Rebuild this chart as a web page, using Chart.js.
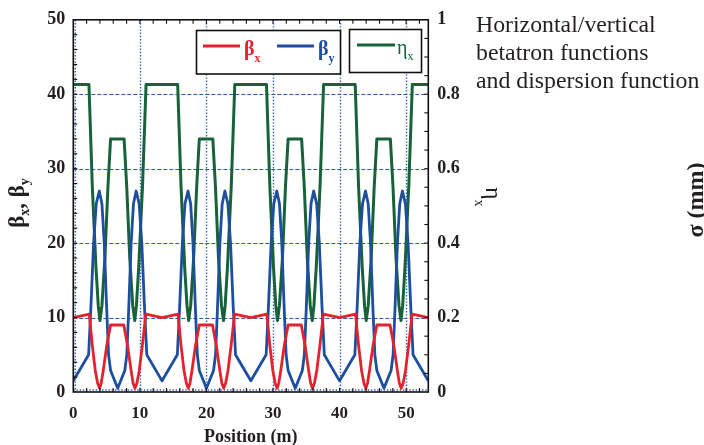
<!DOCTYPE html>
<html>
<head>
<meta charset="utf-8">
<script src="https://cdn.jsdelivr.net/npm/chart.js@4/dist/chart.umd.min.js"></script>
<style>
  html, body { margin: 0; padding: 0; background: #fff; }
  canvas { display: block; }
</style>
</head>
<body>
<canvas id="lattice" width="704" height="445"></canvas>
<script>
// Horizontal betatron function beta_x (m) along the ring
const betaXPos = [
  0, 2.4, 2.85, 3.3, 3.65, 3.95, 4.2, 4.5, 5.0, 5.6, 7.58, 8.18, 8.68, 8.98, 9.26, 9.56, 9.91, 10.38, 10.9,
  13.33, 15.73, 16.18, 16.63, 16.98, 17.28, 17.53, 17.83, 18.33, 18.93, 20.91, 21.51, 22.01, 22.31, 22.59, 22.89, 23.24, 23.71, 24.23,
  26.67, 29.07, 29.52, 29.97, 30.32, 30.62, 30.87, 31.17, 31.67, 32.27, 34.25, 34.85, 35.35, 35.65, 35.93, 36.23, 36.58, 37.05, 37.57,
  40, 42.4, 42.85, 43.3, 43.65, 43.95, 44.2, 44.5, 45.0, 45.6, 47.58, 48.18, 48.68, 48.98, 49.26, 49.56, 49.91, 50.38, 50.9,
  53.33
];
const betaXVal = [
  10.0, 10.45, 6.3, 2.9, 1.2, 0.5, 1.2, 2.9, 6.1, 9.0, 9.0, 6.1, 2.9, 1.2, 0.5, 1.2, 2.9, 6.3, 10.45,
  10.0, 10.45, 6.3, 2.9, 1.2, 0.5, 1.2, 2.9, 6.1, 9.0, 9.0, 6.1, 2.9, 1.2, 0.5, 1.2, 2.9, 6.3, 10.45,
  10.0, 10.45, 6.3, 2.9, 1.2, 0.5, 1.2, 2.9, 6.1, 9.0, 9.0, 6.1, 2.9, 1.2, 0.5, 1.2, 2.9, 6.3, 10.45,
  10.0, 10.45, 6.3, 2.9, 1.2, 0.5, 1.2, 2.9, 6.1, 9.0, 9.0, 6.1, 2.9, 1.2, 0.5, 1.2, 2.9, 6.3, 10.45,
  10.0
];

// Vertical betatron function beta_y (m)
const betaYPos = [
  0, 2.3, 2.65, 3.05, 3.45, 3.9, 4.3, 4.65, 5.0, 5.3, 5.6, 6.67, 7.74, 8.04, 8.34, 8.69, 9.04, 9.44, 9.89, 10.29, 10.69, 11.04,
  13.33, 15.63, 15.98, 16.38, 16.78, 17.23, 17.63, 17.98, 18.33, 18.63, 18.93, 20.0, 21.07, 21.37, 21.67, 22.02, 22.37, 22.77, 23.22, 23.62, 24.02, 24.37,
  26.67, 28.97, 29.32, 29.72, 30.12, 30.57, 30.97, 31.32, 31.67, 31.97, 32.27, 33.34, 34.41, 34.71, 35.01, 35.36, 35.71, 36.11, 36.56, 36.96, 37.36, 37.71,
  40, 42.3, 42.65, 43.05, 43.45, 43.9, 44.3, 44.65, 45.0, 45.3, 45.6, 46.67, 47.74, 48.04, 48.34, 48.69, 49.04, 49.44, 49.89, 50.29, 50.69, 51.04,
  53.33
];
const betaYVal = [
  1.5, 5.0, 11.5, 20.0, 25.3, 27.0, 25.3, 20.0, 11.5, 5.0, 2.9, 0.5, 2.9, 5.0, 11.5, 20.0, 25.3, 27.0, 25.3, 20.0, 11.5, 5.0,
  1.5, 5.0, 11.5, 20.0, 25.3, 27.0, 25.3, 20.0, 11.5, 5.0, 2.9, 0.5, 2.9, 5.0, 11.5, 20.0, 25.3, 27.0, 25.3, 20.0, 11.5, 5.0,
  1.5, 5.0, 11.5, 20.0, 25.3, 27.0, 25.3, 20.0, 11.5, 5.0, 2.9, 0.5, 2.9, 5.0, 11.5, 20.0, 25.3, 27.0, 25.3, 20.0, 11.5, 5.0,
  1.5, 5.0, 11.5, 20.0, 25.3, 27.0, 25.3, 20.0, 11.5, 5.0, 2.9, 0.5, 2.9, 5.0, 11.5, 20.0, 25.3, 27.0, 25.3, 20.0, 11.5, 5.0,
  1.5
];

// Horizontal dispersion eta_x (m), right-hand axis
const etaPos = [
  0, 2.35, 2.85, 3.4, 3.75, 4.0, 4.3, 4.75, 5.2, 5.6, 7.63, 8.03, 8.48, 8.93, 9.23, 9.48, 9.83, 10.4, 10.93,
  13.33, 15.68, 16.18, 16.73, 17.08, 17.33, 17.63, 18.08, 18.53, 18.93, 20.96, 21.36, 21.81, 22.26, 22.56, 22.81, 23.16, 23.73, 24.26,
  26.67, 29.02, 29.52, 30.07, 30.42, 30.67, 30.97, 31.42, 31.87, 32.27, 34.30, 34.70, 35.15, 35.60, 35.90, 36.15, 36.50, 37.07, 37.60,
  40, 42.35, 42.85, 43.4, 43.75, 44.0, 44.3, 44.75, 45.2, 45.6, 47.63, 48.03, 48.48, 48.93, 49.23, 49.48, 49.83, 50.4, 50.93,
  53.33
];
const etaVal = [
  0.826, 0.826, 0.554, 0.336, 0.232, 0.192, 0.232, 0.36, 0.55, 0.68, 0.68, 0.55, 0.36, 0.232, 0.192, 0.232, 0.336, 0.554, 0.826,
  0.826, 0.826, 0.554, 0.336, 0.232, 0.192, 0.232, 0.36, 0.55, 0.68, 0.68, 0.55, 0.36, 0.232, 0.192, 0.232, 0.336, 0.554, 0.826,
  0.826, 0.826, 0.554, 0.336, 0.232, 0.192, 0.232, 0.36, 0.55, 0.68, 0.68, 0.55, 0.36, 0.232, 0.192, 0.232, 0.336, 0.554, 0.826,
  0.826, 0.826, 0.554, 0.336, 0.232, 0.192, 0.232, 0.36, 0.55, 0.68, 0.68, 0.55, 0.36, 0.232, 0.192, 0.232, 0.336, 0.554, 0.826,
  0.826
];

// Axis ticks
const positionTicks = [0, 10, 20, 30, 40, 50];
const betaTicks = [0, 10, 20, 30, 40, 50];
const etaTicks = [0, 0.2, 0.4, 0.6, 0.8, 1];
const etaTickLabels = ['0', '0.2', '0.4', '0.6', '0.8', '1'];

const noteLines = ['Horizontal/vertical', 'betatron functions', 'and dispersion function'];

const RED = '#e2232e';
const BLUE = '#1d4e9f';
const GREEN = '#176238';
const GRID = '#2a5cab';
const INK = '#231f20';
const SERIF = '"Liberation Serif", "Times New Roman", serif';

function toPoints(xs, ys) { return xs.map((x, i) => ({ x: x, y: ys[i] })); }

function line(ctx, x1, y1, x2, y2) {
  ctx.beginPath(); ctx.moveTo(x1, y1); ctx.lineTo(x2, y2); ctx.stroke();
}

// draws a sequence of [text, font, dy] runs from the current origin
function runs(ctx, parts, x0) {
  let x = x0;
  for (const [txt, font, dy] of parts) {
    ctx.font = font;
    ctx.fillText(txt, x, dy);
    x += ctx.measureText(txt).width;
  }
}
function runsWidth(ctx, parts) {
  let w = 0;
  for (const [txt, font] of parts) { ctx.font = font; w += ctx.measureText(txt).width; }
  return w;
}

const decorations = {
  id: 'decorations',
  beforeDatasetsDraw(chart) {
    const { ctx, chartArea: a, scales } = chart;
    const sx = scales.x, sy = scales.y;
    ctx.save();
    ctx.strokeStyle = GRID;
    // horizontal dashed grid
    ctx.lineWidth = 1.2;
    ctx.setLineDash([4, 2]);
    for (const v of betaTicks) {
      if (v <= sy.min || v >= sy.max) continue;
      const py = Math.round(sy.getPixelForValue(v)) + 0.5;
      line(ctx, a.left, py, a.right, py);
    }
    // vertical dotted grid
    ctx.lineWidth = 1.4;
    ctx.setLineDash([1.4, 1.8]);
    for (const v of positionTicks) {
      if (v <= sx.min || v >= sx.max) continue;
      const px = Math.round(sx.getPixelForValue(v)) + 0.5;
      line(ctx, px, a.top, px, a.bottom);
    }
    // dotted lines hugging the zero axes
    line(ctx, a.left + 2, a.top, a.left + 2, a.bottom);
    line(ctx, a.left, a.bottom - 2, a.right, a.bottom - 2);
    ctx.restore();
  },
  afterDatasetsDraw(chart) {
    const { ctx, chartArea: a, scales } = chart;
    const sx = scales.x, sy = scales.y, se = scales.y2;
    ctx.save();
    // frame
    ctx.strokeStyle = '#111';
    ctx.lineWidth = 1.6;
    ctx.strokeRect(a.left, a.top, a.right - a.left, a.bottom - a.top);
    // inward minor ticks
    ctx.lineWidth = 1.1;
    const tl = 4;
    for (let v = 2; v < sx.max; v += 2) {
      const px = sx.getPixelForValue(v);
      line(ctx, px, a.bottom, px, a.bottom - tl);
      line(ctx, px, a.top, px, a.top + tl);
    }
    for (let v = 2; v < sy.max; v += 2) {
      const py = sy.getPixelForValue(v);
      line(ctx, a.left, py, a.left + tl, py);
    }
    for (let k = 1; k < 20; k++) {
      const py = se.getPixelForValue(k * 0.05);
      line(ctx, a.right, py, a.right - tl, py);
    }

    // legend boxes
    ctx.lineWidth = 1.6;
    ctx.strokeStyle = '#111';
    ctx.fillStyle = '#fff';
    ctx.fillRect(196.5, 30.5, 144, 43.5);
    ctx.fillRect(349.5, 29.5, 72, 43);
    ctx.strokeRect(196.5, 30.5, 144, 43.5);
    ctx.strokeRect(349.5, 29.5, 72, 43);
    ctx.lineWidth = 3;
    ctx.strokeStyle = RED;   line(ctx, 203, 46, 240, 46);
    ctx.strokeStyle = BLUE;  line(ctx, 277, 46, 314, 46);
    ctx.strokeStyle = GREEN; line(ctx, 357, 45, 395, 45);
    ctx.textBaseline = 'alphabetic';
    ctx.textAlign = 'left';
    ctx.fillStyle = RED;
    ctx.save(); ctx.translate(244, 55);
    runs(ctx, [['β', 'bold 20px ' + SERIF, 0], ['x', 'bold 12px ' + SERIF, 7]], 0);
    ctx.restore();
    ctx.fillStyle = BLUE;
    ctx.save(); ctx.translate(318, 55);
    runs(ctx, [['β', 'bold 20px ' + SERIF, 0], ['y', 'bold 12px ' + SERIF, 7]], 0);
    ctx.restore();
    ctx.fillStyle = GREEN;
    ctx.save(); ctx.translate(397, 54);
    runs(ctx, [['η', '20px ' + SERIF, 0], ['x', '12px ' + SERIF, 6]], 0);
    ctx.restore();

    // left axis title
    ctx.fillStyle = INK;
    const leftTitle = [
      ['β', 'bold 23px ' + SERIF, 0], ['x', 'bold 14px ' + SERIF, 5], [', ', 'bold 23px ' + SERIF, 0],
      ['β', 'bold 23px ' + SERIF, 0], ['y', 'bold 14px ' + SERIF, 5]
    ];
    ctx.save();
    ctx.translate(24, 203);
    ctx.rotate(-Math.PI / 2);
    runs(ctx, leftTitle, -runsWidth(ctx, leftTitle) / 2);
    ctx.restore();

    // right axis title (eta_x)
    ctx.save();
    ctx.translate(486, 187);
    ctx.rotate(Math.PI / 2);
    runs(ctx, [['η', '24px ' + SERIF, 0], ['x', '14px ' + SERIF, 11]], 0);
    ctx.restore();

    // beam size axis title
    ctx.save();
    ctx.translate(703, 200);
    ctx.rotate(-Math.PI / 2);
    ctx.font = 'bold 24px ' + SERIF;
    ctx.textAlign = 'center';
    ctx.fillText('σ (mm)', 0, 0);
    ctx.restore();

    // bottom axis title
    ctx.font = 'bold 18px ' + SERIF;
    ctx.textAlign = 'center';
    ctx.fillText('Position (m)', (a.left + a.right) / 2, 442);

    // note
    ctx.font = '23.8px ' + SERIF;
    ctx.textAlign = 'left';
    noteLines.forEach((t, i) => ctx.fillText(t, 476, 31.5 + i * 28.4));
    ctx.restore();
  }
};

const tickFont = { family: SERIF, size: 17, weight: 'bold' };
const hiddenGrid = { display: false, drawTicks: false };

new Chart(document.getElementById('lattice'), {
  type: 'line',
  data: {
    datasets: [
      { label: 'ηx', data: toPoints(etaPos, etaVal), yAxisID: 'y2', borderColor: GREEN, borderWidth: 3, order: 3 },
      { label: 'βy', data: toPoints(betaYPos, betaYVal), yAxisID: 'y', borderColor: BLUE, borderWidth: 2.8, order: 2 },
      { label: 'βx', data: toPoints(betaXPos, betaXVal), yAxisID: 'y', borderColor: RED, borderWidth: 2.8, order: 1 }
    ]
  },
  options: {
    responsive: false,
    animation: false,
    devicePixelRatio: 1,
    elements: { point: { radius: 0 }, line: { tension: 0, borderJoinStyle: 'round' } },
    layout: { padding: { top: 18.5, left: 0, right: 0, bottom: 0 } },
    plugins: { legend: { display: false }, tooltip: { enabled: false } },
    scales: {
      x: {
        type: 'linear', min: 0, max: 53.33,
        afterBuildTicks: s => { s.ticks = positionTicks.map(v => ({ value: v })); },
        afterFit: s => { s.height = 53; },
        grid: hiddenGrid, border: { display: false },
        ticks: { font: tickFont, color: INK, padding: 11, maxRotation: 0, autoSkip: false }
      },
      y: {
        type: 'linear', position: 'left', min: 0, max: 50,
        afterBuildTicks: s => { s.ticks = betaTicks.map(v => ({ value: v })); },
        afterFit: s => { s.width = 73.3; },
        grid: hiddenGrid, border: { display: false },
        ticks: { font: { family: SERIF, size: 18, weight: 'bold' }, color: INK, padding: 8 }
      },
      y2: {
        type: 'linear', position: 'right', min: 0, max: 1,
        afterBuildTicks: s => { s.ticks = etaTicks.map(v => ({ value: v })); },
        afterFit: s => { s.width = 704 - 428.3; },
        grid: hiddenGrid, border: { display: false },
        ticks: { font: { family: SERIF, size: 18, weight: 'bold' }, color: INK, padding: 9,
                 callback: (v, i) => etaTickLabels[i] }
      }
    }
  },
  plugins: [decorations]
});
</script>
</body>
</html>
